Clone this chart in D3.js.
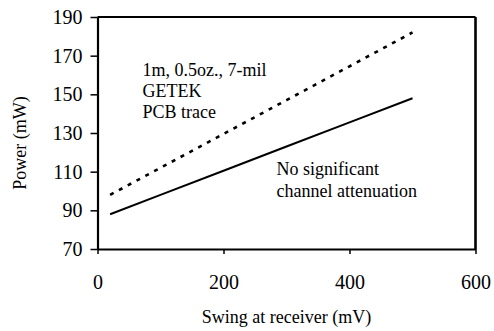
<!DOCTYPE html>
<html>
<head>
<meta charset="utf-8">
<script src="https://cdn.jsdelivr.net/npm/d3@7"></script>
<style>
  body { margin: 0; background: #fff; }
  svg text { font-family: "Liberation Serif", "Times New Roman", Times, serif; fill: #000; }
</style>
</head>
<body>
<div id="chart"></div>
<script>
// values
const swing = [20, 100, 200, 300, 400, 500];                 // mV
const powerPcb = [98, 112, 129.5, 147, 164.5, 182];          // mW, dotted
const powerNoAtten = [88, 98, 110.5, 123, 135.5, 148];       // mW, solid
const xTicks = [0, 200, 400, 600];
const yTicks = [70, 90, 110, 130, 150, 170, 190];
const pcbNote = ["1m, 0.5oz., 7-mil", "GETEK", "PCB trace"];
const noAttenNote = ["No significant", "channel attenuation"];

const width = 494, height = 331;
const margin = {top: 17, right: 18.5, bottom: 82, left: 97.5};

const svg = d3.select("#chart").append("svg")
  .attr("width", width)
  .attr("height", height);

const x = d3.scaleLinear().domain([0, 600]).range([margin.left, width - margin.right]);
const y = d3.scaleLinear().domain([70, 190]).range([height - margin.bottom, margin.top]);

// frame: top and right
svg.append("line")
  .attr("x1", x(0)).attr("x2", x(600))
  .attr("y1", y(190)).attr("y2", y(190))
  .attr("stroke", "#000").attr("stroke-width", 2.2);
svg.append("line")
  .attr("x1", x(600)).attr("x2", x(600))
  .attr("y1", y(190)).attr("y2", y(70))
  .attr("stroke", "#000").attr("stroke-width", 2.6);

const xAxis = svg.append("g")
  .attr("transform", "translate(0," + y(70) + ")")
  .call(d3.axisBottom(x).tickValues(xTicks).tickSize(5).tickPadding(21).tickSizeOuter(0));

const yAxis = svg.append("g")
  .attr("transform", "translate(" + x(0) + ",0)")
  .call(d3.axisLeft(y).tickValues(yTicks).tickSize(7).tickPadding(8).tickSizeOuter(0));

[xAxis, yAxis].forEach(function (g) {
  g.select(".domain").attr("stroke-width", 2.2);
  g.selectAll(".tick line").attr("stroke-width", 1.5);
  g.selectAll(".tick text").attr("font-size", 20);
});

const line = d3.line()
  .x(function (d) { return x(d[0]); })
  .y(function (d) { return y(d[1]); });

svg.append("path")
  .datum(d3.zip(swing, powerPcb))
  .attr("fill", "none")
  .attr("stroke", "#000")
  .attr("stroke-width", 2.6)
  .attr("stroke-dasharray", "4,6")
  .attr("d", line);

svg.append("path")
  .datum(d3.zip(swing, powerNoAtten))
  .attr("fill", "none")
  .attr("stroke", "#000")
  .attr("stroke-width", 2)
  .attr("d", line);

// annotations
svg.append("g").selectAll("text")
  .data(pcbNote)
  .join("text")
  .attr("x", 142.5)
  .attr("y", function (d, i) { return 76 + i * 21.2; })
  .attr("font-size", 18)
  .text(function (d) { return d; });

svg.append("g").selectAll("text")
  .data(noAttenNote)
  .join("text")
  .attr("x", 276.5)
  .attr("y", function (d, i) { return 175 + i * 21.7; })
  .attr("font-size", 18)
  .text(function (d) { return d; });

// axis titles
svg.append("text")
  .attr("x", (x(0) + x(600)) / 2)
  .attr("y", 323)
  .attr("text-anchor", "middle")
  .attr("font-size", 18)
  .text("Swing at receiver (mV)");

svg.append("text")
  .attr("transform", "translate(26,143) rotate(-90)")
  .attr("text-anchor", "middle")
  .attr("font-size", 18)
  .text("Power (mW)");
</script>
</body>
</html>
